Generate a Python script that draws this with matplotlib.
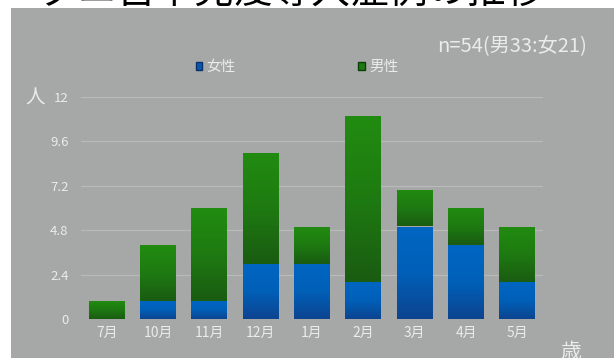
import numpy as np
import matplotlib.pyplot as plt
from matplotlib.colors import LinearSegmentedColormap
from matplotlib.patches import Rectangle, Patch

plt.rcParams['font.family'] = ['Noto Sans CJK JP', 'DejaVu Sans']

months = ['7月', '10月', '11月', '12月', '1月', '2月', '3月', '4月', '5月']
female = [0, 1, 1, 3, 3, 2, 5, 4, 2]
male = [1, 3, 5, 6, 2, 9, 2, 2, 3]
yticks = [0, 2.4, 4.8, 7.2, 9.6, 12]
ytick_labels = ['0', '2.4', '4.8', '7.2', '9.6', '12']

bg = '#a5a8a6'
txt = '#ebebeb'
blue_cm = LinearSegmentedColormap.from_list('b', ['#0d4490', '#0060b8', '#0066c2'])
green_cm = LinearSegmentedColormap.from_list('g', ['#1a5c12', '#1e7a11', '#218c10'])

fig = plt.figure(figsize=(6.14, 3.58), dpi=100)
fig.add_artist(Rectangle((11 / 614, 0), 1, 1 - 8 / 358, transform=fig.transFigure,
                         facecolor=bg, edgecolor='none', zorder=0))

# title, mostly cut off at the top
fig.text(292 / 614, 1 - 4 / 358, 'ダニ舌下免疫導入症例の推移', ha='center', va='baseline',
         fontsize=28, color='black')

ax = fig.add_axes([81 / 614, 1 - 319 / 358, 462 / 614, 222 / 358])
ax.patch.set_visible(False)

x = np.arange(len(months))
grad = np.linspace(0, 1, 100).reshape(-1, 1)


def gradient_bars(bars, cmap):
    for b in bars:
        if b.get_height() == 0:
            continue
        x0, y0 = b.get_x(), b.get_y()
        im = ax.imshow(grad, cmap=cmap, origin='lower', aspect='auto',
                       extent=(x0, x0 + b.get_width(), y0, y0 + b.get_height()), zorder=2)
        im.set_clip_path(b)
        b.set_facecolor('none')
        b.set_edgecolor('none')


fb = ax.bar(x, female, width=0.7, zorder=3)
mb = ax.bar(x, male, width=0.7, bottom=female, zorder=3)
gradient_bars(fb, blue_cm)
gradient_bars(mb, green_cm)

ax.set_xlim(-0.5, len(months) - 0.5)
ax.set_ylim(0, 12)
ax.set_yticks(yticks)
ax.set_yticklabels(ytick_labels)
ax.set_xticks(x)
ax.set_xticklabels(months)
ax.yaxis.grid(True, color='#b8bbb9', linewidth=0.8)
ax.set_axisbelow(True)
for s in ax.spines.values():
    s.set_visible(False)
ax.tick_params(axis='y', length=0, colors=txt, labelsize=9.5, pad=9)
ax.tick_params(axis='x', length=0, colors=txt, labelsize=10, pad=5)

handles = [Patch(facecolor='#0d56aa', edgecolor='#08306b', label='女性'),
           Patch(facecolor='#1e7a12', edgecolor='#0c4008', label='男性')]
fig.legend(handles=handles, loc='center', bbox_to_anchor=(297 / 614, 1 - 67 / 358), ncol=2,
           frameon=False, fontsize=10.5, labelcolor=txt, handlelength=0.45, handleheight=0.45,
           handletextpad=0.3, columnspacing=8.4)

fig.text(512 / 614, 1 - 47 / 358, 'n=54(男33:女21)', ha='center', va='center',
         fontsize=14.5, color=txt)
fig.text(35 / 614, 1 - 98 / 358, '人', ha='center', va='center', fontsize=14, color=txt)
fig.text(571 / 614, 1 - 352 / 358, '歳', ha='center', va='center', fontsize=15, color=txt)

fig.savefig('out.png', dpi=100)
